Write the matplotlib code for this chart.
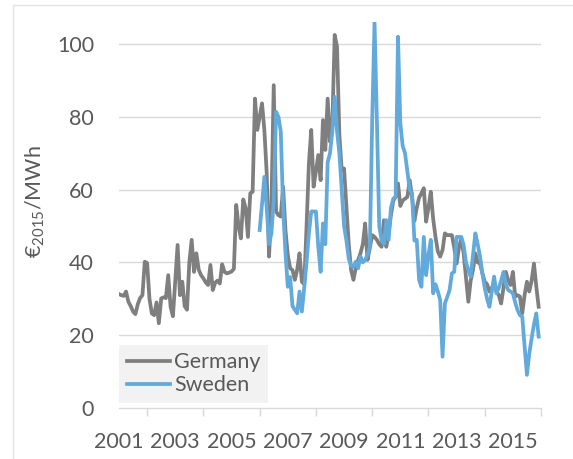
import numpy as np
import matplotlib
matplotlib.use("Agg")
import matplotlib.pyplot as plt
from matplotlib.patches import Rectangle

# monthly prices, Jan 2001 - Dec 2015 (EUR2015/MWh)
germany = [
    31.3, 31.0, 30.8, 32.0, 29.2, 28.0, 26.5, 25.8, 28.5, 30.2, 31.0, 40.2,
    39.8, 30.0, 26.0, 25.5, 29.0, 23.3, 30.1, 30.4, 30.2, 36.5, 27.8, 25.2,
    35.0, 44.8, 31.0, 34.7, 28.0, 27.0, 40.0, 46.2, 37.4, 42.5, 38.0, 36.5,
    35.6, 34.5, 33.8, 39.3, 32.4, 34.4, 35.0, 34.2, 39.5, 37.4, 37.0, 37.2,
    37.5, 38.2, 55.8, 50.0, 46.6, 57.3, 55.0, 47.0, 59.0, 59.4, 85.0, 76.4,
    80.0, 83.7, 76.4, 64.5, 41.6, 55.3, 88.7, 54.0, 53.0, 52.6, 60.8, 48.9,
    42.0, 38.4, 37.9, 35.2, 38.0, 42.5, 34.7, 34.0, 50.0, 67.2, 76.4, 60.8,
    65.0, 69.5, 62.6, 79.1, 70.9, 85.0, 73.2, 78.0, 102.5, 99.3, 75.0, 65.4,
    65.8, 55.3, 45.0, 37.9, 35.2, 38.5, 40.7, 42.5, 45.0, 50.7, 40.7, 44.0,
    47.5, 47.0, 46.2, 45.0, 44.3, 51.6, 44.3, 48.0, 53.0, 57.0, 58.0, 61.7,
    55.5, 57.0, 57.5, 58.0, 62.6, 58.0, 51.4, 55.0, 57.8, 59.0, 60.4, 51.2,
    55.0, 59.4, 52.0, 47.0, 43.0, 41.6, 43.4, 48.0, 47.5, 47.5, 47.5, 44.0,
    39.7, 44.0, 46.6, 42.5, 36.0, 29.2, 35.0, 38.0, 42.5, 40.0, 39.7, 37.0,
    34.7, 34.0, 32.0, 33.0, 34.2, 32.0, 31.0, 28.7, 33.0, 37.4, 35.0, 33.8,
    37.4, 30.6, 31.0, 30.6, 26.0, 31.0, 34.7, 32.0, 35.0, 39.7, 33.3, 27.8,
]

# Jan 2006 - Dec 2015
sweden = [
    48.9, 56.0, 63.5, 55.0, 45.0, 48.0, 57.0, 81.4, 80.0, 76.0, 55.0, 42.6,
    33.3, 36.0, 28.0, 27.0, 26.0, 32.0, 26.5, 33.0, 40.0, 48.0, 54.0, 54.0,
    54.0, 44.3, 37.4, 50.7, 45.0, 67.5, 70.0, 76.0, 85.5, 76.0, 70.0, 60.0,
    50.0, 46.0, 41.0, 39.0, 38.8, 40.2, 38.4, 41.6, 40.0, 40.7, 42.0, 44.3,
    79.0, 106.0, 79.0, 50.0, 46.0, 45.0, 51.6, 46.2, 55.0, 57.5, 58.0, 102.0,
    78.2, 72.0, 70.0, 65.0, 60.0, 59.0, 46.0, 46.2, 35.2, 33.3, 47.0, 36.5,
    42.0, 46.2, 31.5, 34.0, 32.0, 29.7, 14.1, 28.7, 30.5, 32.4, 37.0, 37.4,
    47.0, 47.0, 47.0, 44.8, 40.0, 37.9, 36.1, 42.0, 48.0, 45.0, 41.6, 37.0,
    33.0, 30.0, 27.8, 32.0, 36.1, 31.5, 33.0, 35.0, 37.4, 34.0, 32.4, 32.0,
    31.5, 29.0, 26.9, 25.5, 25.1, 17.0, 9.1, 15.0, 19.1, 23.0, 26.0, 19.6,
]

t_de = 2001 + np.arange(len(germany)) / 12
t_se = 2006 + np.arange(len(sweden)) / 12

year_labels = [str(y) for y in range(2001, 2016, 2)]

plt.rcParams['font.family'] = ['Lato', 'DejaVu Sans']
plt.rcParams['mathtext.fontset'] = 'custom'
plt.rcParams['mathtext.rm'] = 'Lato'

txt = '#595959'
grid = '#d9d9d9'

fig = plt.figure(figsize=(5.73, 4.59), dpi=100)
ax = fig.add_axes([119 / 573, 1 - 408 / 459, 422 / 573, 385.8 / 459])

# light outer frame of the chart area
fig.patches.append(Rectangle((13 / 573, -0.1), 1.2, 1 - 5 / 459 + 0.1,
                             transform=fig.transFigure, fill=False,
                             edgecolor='#e3e3e3', lw=1))

ax.plot(t_de, germany, color='#7f7f7f', lw=2.7, label='Germany', solid_joinstyle='round')
ax.plot(t_se, sweden, color='#62a9dc', lw=2.7, label='Sweden', solid_joinstyle='round')

ax.set_xlim(2001, 2016)
ax.set_ylim(0, 106)
ax.set_yticks(range(0, 101, 20))
ax.set_xticks(range(2001, 2016, 2))
ax.set_xticklabels(year_labels)
ax.set_xticks(range(2001, 2017), minor=True)

for y in range(20, 101, 20):
    ax.axhline(y, color=grid, lw=1, zorder=0)

for s in ['top', 'right', 'left']:
    ax.spines[s].set_visible(False)
ax.spines['bottom'].set_color(grid)
ax.spines['bottom'].set_linewidth(1)

ax.tick_params(axis='y', length=0, pad=18, labelsize=15.5, labelcolor=txt)
ax.tick_params(axis='x', which='major', length=0, pad=17, labelsize=15.5, labelcolor=txt)
ax.tick_params(axis='x', which='minor', length=5.5, color=grid, width=1)

fig.text(35 / 573, 1 - 202 / 459, r'€$_{\mathrm{2015}}$/MWh', rotation=90,
         ha='center', va='center', fontsize=15.5, color=txt)

leg = ax.legend(loc='lower left', bbox_to_anchor=(0, 0.013), borderaxespad=0,
                fontsize=15.5, frameon=True, fancybox=False, framealpha=1,
                handlelength=2.0, handletextpad=0.2, borderpad=0.35,
                labelspacing=0.15)
leg.get_frame().set_facecolor('#f2f2f2')
leg.get_frame().set_edgecolor('none')
for t in leg.get_texts():
    t.set_color(txt)

fig.savefig('out.png', dpi=100)
